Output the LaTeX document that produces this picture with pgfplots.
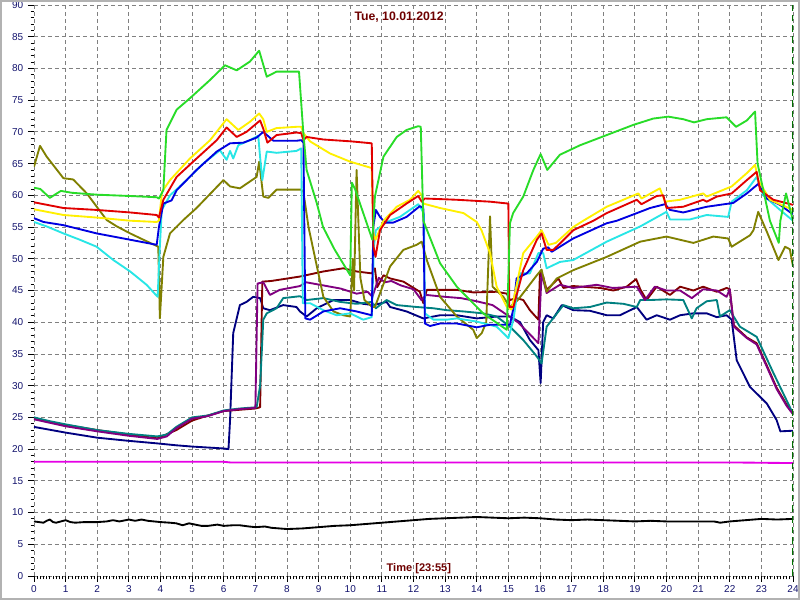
\documentclass[border=0pt]{standalone}
\usepackage{fontspec}
\setmainfont{Liberation Sans}
\usepackage{pgfplots}
\pgfplotsset{compat=1.18}
\definecolor{cgreen}{RGB}{40,220,40}
\definecolor{cred}{RGB}{225,0,0}
\definecolor{cyellow}{RGB}{255,240,0}
\definecolor{cblue}{RGB}{0,0,225}
\definecolor{ccyan}{RGB}{40,230,230}
\definecolor{colive}{RGB}{128,128,0}
\definecolor{cmaroon}{RGB}{128,0,0}
\definecolor{cpurple}{RGB}{128,0,128}
\definecolor{cteal}{RGB}{0,128,128}
\definecolor{cnavy}{RGB}{0,0,128}
\definecolor{cmagenta}{RGB}{230,0,230}
\definecolor{labnavy}{RGB}{20,20,110}
\definecolor{titred}{RGB}{110,0,0}
\definecolor{endgreen}{RGB}{0,110,0}
\begin{document}
\begin{tikzpicture}
\useasboundingbox (-25.5pt,-18pt) rectangle (574.5pt,432pt);
\fill[white] (-25.5pt,-18pt) rectangle (574.5pt,432pt);
\begin{axis}[
  scale only axis, width=569.25pt, height=428.25pt,
  xmin=0, xmax=24, ymin=0, ymax=90,
  xtick={0,1,...,24}, ytick={0,5,...,90},
  minor x tick num=9, minor y tick num=4,
  tick align=outside, tick pos=left,
  major tick length=4.5pt, minor tick length=2.5pt,
  grid=major,
  grid style={gray, line width=0.6pt, dash pattern=on 3pt off 2.25pt},
  axis line style={draw=none},
  tick style={black, line width=0.6pt},
  ticklabel style={font=\fontsize{7.5}{8}\selectfont, text=labnavy},
  xticklabel style={yshift=1pt},
  /pgf/number format/assume math mode=true,
  every axis plot/.append style={line width=1.4pt, line join=round, no markers},
]
% black
\addplot[black] coordinates {(0,8.6) (0.15,8.5) (0.3,8.4) (0.4,8.7) (0.5,8.9) (0.6,8.5) (0.7,8.4) (0.85,8.6) (1,8.8) (1.15,8.5) (1.3,8.4) (1.6,8.5) (2,8.5) (2.3,8.6) (2.5,8.8) (2.7,8.6) (3,8.9) (3.2,8.7) (3.4,8.9) (3.6,8.7) (4,8.5) (4.3,8.4) (4.5,8.3) (4.7,8.0) (4.9,8.3) (5,8.2) (5.3,7.9) (5.5,7.9) (5.8,8.1) (6,7.9) (6.3,8.0) (6.5,8.0) (6.8,7.8) (7,7.7) (7.3,7.8) (7.5,7.6) (8,7.4) (8.5,7.5) (9,7.7) (9.5,7.9) (10,8.0) (10.5,8.2) (11,8.4) (11.5,8.6) (12,8.8) (12.5,9.0) (13,9.1) (13.5,9.2) (14,9.3) (14.5,9.2) (15,9.1) (15.5,9.2) (16,9.1) (16.5,8.9) (17,8.8) (17.5,8.9) (18,8.8) (18.5,8.7) (19,8.6) (19.5,8.7) (20,8.6) (20.5,8.6) (21,8.6) (21.5,8.6) (21.7,8.4) (22,8.6) (22.5,8.8) (23,9.0) (23.5,8.9) (24,9.0)};
% magenta
\addplot[cmagenta] coordinates {(0,18.0) (6,18.0) (6.2,17.9) (12,17.9) (18,17.9) (22,17.9) (24,17.8)};
% navy
\addplot[cnavy] coordinates {(0,23.5) (1,22.6) (2,21.8) (3,21.3) (3.9,20.9) (4.5,20.6) (5,20.4) (6,20.1) (6.15,20.0) (6.2,24.6) (6.3,38.3) (6.51,42.7) (6.72,43.2) (6.93,44.0) (7.15,43.8) (7.25,42.2) (7.46,41.9) (7.88,42.7) (8.3,42.4) (8.41,41.7) (8.62,40.9) (8.94,42.2) (9.47,43.5) (10.0,43.5) (10.41,42.9) (10.73,42.7) (11.15,43.2) (11.26,42.4) (11.78,41.7) (12.31,40.6) (12.84,41.1) (13.37,41.1) (14.0,40.6) (14.63,40.9) (15.05,40.9) (15.37,40.0) (15.68,37.2) (15.95,35.6) (16.02,30.4) (16.1,40) (16.21,41.1) (16.42,40.6) (16.69,42.7) (17.05,41.9) (17.58,41.8) (18.11,41.1) (18.53,41.1) (19.06,42.4) (19.37,40.4) (19.69,41.1) (20.11,40.4) (20.43,41.1) (20.85,41.4) (21.27,41.4) (21.59,40.8) (21.9,41.1) (22.06,40.4) (22.22,34.0) (22.64,29.8) (23.17,27.2) (23.48,24.6) (23.6,22.8) (24,22.9)};
% maroon
\addplot[cmaroon] coordinates {(0,24.8) (1,23.8) (2,23.0) (3,22.3) (3.9,21.7) (4.5,23) (5,24.5) (5.5,25.3) (6,26) (6.5,26.2) (7.0,26.4) (7.15,26.6) (7.22,46.4) (7.5,46.5) (8.41,47.2) (9.15,48.0) (9.78,48.5) (10.2,48.0) (10.68,47.7) (10.78,48.5) (10.85,45.5) (11.05,47.4) (11.26,46.9) (11.68,46.4) (12.2,44.8) (12.31,43.0) (12.42,45.1) (12.84,45.1) (13.37,45.1) (13.89,44.7) (14.63,44.8) (14.95,44.5) (15.05,43.5) (15.26,43.8) (15.47,43.5) (15.68,41.9) (15.95,40.4) (16.0,48.0) (16.1,47.2) (16.21,45.1) (16.58,46.9) (16.74,45.4) (17.05,45.7) (17.9,45.4) (18.32,45.0) (18.74,45.6) (19.04,46.8) (19.17,45.2) (19.37,43.5) (19.69,45.6) (20.11,44.3) (20.43,45.6) (20.85,45.0) (21.16,45.6) (21.59,44.8) (21.9,45.4) (22.0,45.2) (22.13,39.5) (22.54,37.6) (22.85,36.7) (23.17,33.2) (23.48,29.7) (23.8,27.0) (24,25.7)};
% teal
\addplot[cteal] coordinates {(0,25.0) (0.5,24.4) (1,23.9) (2,23.0) (3,22.4) (3.9,22.0) (4.2,22.3) (4.5,23.5) (5,25) (5.5,25.3) (6,26.1) (6.5,26.4) (7.04,26.6) (7.15,30) (7.2,35.1) (7.25,40.4) (7.36,41.4) (7.67,42.2) (7.88,43.8) (8.41,44.1) (8.62,43.5) (9.15,43.8) (9.68,43.2) (10.2,42.9) (10.68,43.2) (10.81,42.2) (11.15,43.5) (11.47,42.7) (12.1,42.4) (12.63,42.2) (13.05,41.9) (13.58,41.7) (14.2,41.4) (14.63,40.9) (15.05,39.3) (15.47,37.2) (15.9,34.6) (16.05,33.5) (16.21,39.3) (16.74,42.7) (17.05,42.2) (17.58,42.4) (18.11,43.1) (18.64,42.9) (19.06,42.4) (19.17,43.5) (19.48,43.5) (20.0,43.6) (20.53,43.5) (20.8,40.6) (20.95,42.2) (21.27,43.3) (21.59,43.5) (21.69,40.9) (22.0,41.9) (22.32,39.3) (22.85,37.7) (23.38,32.0) (24,25.6)};
% purple
\addplot[cpurple] coordinates {(0,24.7) (1,23.6) (2,22.8) (3,22.1) (3.9,21.6) (4.2,22) (4.5,23.3) (5,24.8) (5.5,25.2) (6,26) (6.5,26.3) (7.0,26.5) (7.07,46.1) (7.25,46.3) (7.46,44.3) (7.77,45.1) (8.41,45.7) (8.6,46.3) (9.15,45.8) (9.7,45.3) (10.2,44.5) (10.55,44.8) (10.7,44.0) (10.8,45.5) (10.9,47.0) (11.1,46.3) (11.3,46.5) (11.6,45.8) (12.0,45.2) (12.25,43.5) (12.4,44.3) (13.0,44.0) (13.5,43.8) (14.0,43.3) (14.5,42.7) (15.0,41.0) (15.3,40.0) (15.6,38.5) (15.95,36.7) (16.05,47.7) (16.21,44.6) (16.63,45.9) (17.05,45.4) (17.79,45.9) (18.3,45.4) (19.06,45.6) (19.32,43.5) (19.63,45.6) (20.0,45.0) (20.43,45.0) (20.8,43.8) (21.16,45.2) (21.59,45.0) (21.9,44.0) (22.0,45.2) (22.13,39.3) (22.54,37.5) (22.85,36.5) (23.17,33) (23.48,29.5) (23.8,26.8) (24,25.5)};
% olive
\addplot[colive] coordinates {(0,64.5) (0.19,67.8) (0.4,66.1) (0.93,62.7) (1.24,62.5) (1.67,60.3) (2.3,56.1) (2.62,55.1) (3.04,54.0) (3.46,53.0) (3.93,51.9) (3.98,40.6) (4.09,50.3) (4.3,54.0) (4.72,56.1) (5.14,58.0) (5.99,62.4) (6.2,61.4) (6.51,61.1) (7.04,62.9) (7.12,65.3) (7.25,59.8) (7.41,59.6) (7.67,60.9) (8.3,60.9) (8.45,60.9) (8.52,60.5) (8.68,55) (9.15,44.0) (9.47,41.7) (9.78,41.1) (10.0,40.9) (10.08,50) (10.12,45) (10.2,64.0) (10.32,47) (10.45,43.5) (10.7,42.4) (10.78,42.4) (11.26,48.8) (11.68,51.4) (12.1,52.2) (12.26,52.7) (12.42,49.8) (12.84,44.0) (13.37,40.9) (13.89,38.8) (14.0,37.5) (14.16,38.3) (14.3,40) (14.42,56.7) (14.5,45.6) (14.84,44.0) (15.05,42.4) (15.3,43.5) (15.9,47.4) (16.05,48.3) (16.21,44.8) (16.53,46.9) (17.05,48.2) (18.11,50.3) (19.17,52.7) (20.0,53.5) (20.85,52.5) (21.48,53.5) (21.95,53.2) (22.06,51.9) (22.64,53.7) (22.75,54.5) (22.9,57.4) (23.17,54.3) (23.54,49.8) (23.75,51.9) (23.9,51.5) (24,48.8)};
% cyan
\addplot[ccyan] coordinates {(0,55.8) (0.4,55.1) (0.93,54.0) (1.45,53.0) (1.98,51.9) (2.51,49.8) (3.04,48.0) (3.56,45.9) (3.91,44.0) (3.98,52) (4.04,57.7) (4.3,60.0) (4.72,61.9) (5.35,65.0) (5.88,67.1) (6.09,65.6) (6.2,67.0) (6.3,65.8) (6.46,67.9) (6.83,68.7) (7.09,69.4) (7.15,66) (7.22,62.4) (7.36,66.9) (7.67,66.7) (8.3,67.0) (8.45,67.4) (8.5,43) (8.73,43.0) (9.15,41.9) (9.57,41.1) (10.0,41.4) (10.41,40.4) (10.68,40.8) (10.75,52) (10.81,54.5) (11.15,55.8) (11.57,56.6) (12.15,58.6) (12.26,57.8) (12.33,57) (12.36,41.4) (12.63,40.4) (13.05,40.4) (13.37,40.6) (14.0,40.1) (14.63,39.3) (15.0,37.5) (15.16,40.4) (15.37,47.7) (15.68,47.7) (15.95,50.9) (16.1,50.9) (16.21,48.5) (16.63,49.5) (17.05,49.8) (18.11,52.7) (19.17,55.1) (20.0,57.4) (20.11,56.2) (20.74,56.2) (21.27,56.9) (21.95,56.6) (22.06,59.0) (22.54,60.8) (22.85,62.9) (23.06,60.0) (23.59,57.7) (24,56.0)};
% blue
\addplot[cblue] coordinates {(0,56.4) (0.3,55.8) (0.93,55.3) (1.98,54.0) (3.04,53.0) (3.88,52.2) (3.95,55) (4.09,58.7) (4.35,59.2) (4.51,60.8) (5.14,64.0) (5.78,66.9) (6.2,68.2) (6.62,68.3) (7.04,69.1) (7.25,70.0) (7.57,68.6) (8.3,68.6) (8.45,68.7) (8.52,68.3) (8.58,40.6) (8.73,40.4) (9.15,41.7) (9.68,42.2) (10.2,41.7) (10.68,41.1) (10.73,55) (10.81,57.7) (10.94,56.6) (11.1,55.7) (11.36,55.7) (11.78,56.6) (12.2,58.3) (12.31,58.0) (12.36,39.8) (12.52,39.4) (12.84,39.8) (13.37,39.8) (14.0,39.2) (14.42,39.6) (15.05,39.6) (15.15,42) (15.26,46.9) (15.58,47.7) (15.9,49.5) (16.1,51.6) (16.26,51.8) (16.37,51.1) (16.63,51.9) (17.05,53.2) (18.11,55.6) (18.43,56) (19.17,57.4) (19.48,58.0) (19.95,58.6) (20.11,57.7) (20.53,57.3) (21.27,58.2) (21.69,58.5) (22.11,58.8) (22.54,60.3) (22.9,61.8) (23.17,59.5) (23.59,58.5) (24,57.0)};
% yellow
\addplot[cyellow] coordinates {(0,57.8) (0.93,56.9) (1.98,56.5) (3.04,56.0) (3.88,55.8) (3.95,56) (4.05,60.6) (4.3,62.4) (4.93,65.8) (5.57,68.7) (6.09,72.0) (6.46,70.3) (6.83,71.6) (7.12,72.9) (7.25,72.0) (7.36,70.0) (7.67,70.6) (8.3,70.8) (8.45,70.8) (8.52,69.8) (8.73,68.5) (9.36,66.6) (10.0,65.3) (10.68,64.3) (10.73,54) (10.8,53) (11.05,56) (11.47,58.2) (11.89,59.3) (12.15,60.7) (12.26,60.0) (12.31,58.7) (12.84,58.0) (13.58,57.2) (14.0,55.8) (14.15,54.5) (14.42,50.9) (14.63,45.6) (14.95,42.4) (15.1,42.0) (15.47,50.9) (15.9,53.5) (16.05,54.5) (16.27,52.2) (16.5,52.5) (17.05,55.0) (17.37,56) (18.11,58.2) (19.11,60.3) (19.21,59.5) (19.79,61.1) (19.95,59.0) (20.43,59.3) (21.16,60.3) (21.27,59.8) (22.06,61.4) (22.54,63.5) (22.8,64.8) (22.9,62.4) (23.27,59.3) (24,57.7)};
% red
\addplot[cred] coordinates {(0,58.9) (0.93,58.0) (1.98,57.7) (3.04,57.3) (3.88,56.9) (3.95,56.5) (4.09,59.3) (4.51,62.9) (5.14,65.8) (5.78,68.7) (6.09,70.7) (6.41,69.2) (6.72,70.0) (7.15,71.8) (7.25,70.5) (7.38,68.3) (7.67,69.5) (8.3,69.9) (8.45,69.8) (8.52,68.7) (8.62,69.2) (9.15,68.8) (10.04,68.5) (10.68,68.2) (10.73,52) (10.8,50.3) (10.94,54.5) (11.26,56.9) (11.78,58.7) (12.15,59.9) (12.26,59.0) (12.36,59.5) (13.37,59.3) (14.42,59.0) (15.0,58.7) (15.03,42.4) (15.16,42.4) (15.47,48.2) (15.9,53) (16.05,54) (16.21,51.4) (16.42,51.4) (16.63,52.4) (17.05,54.5) (17.69,56.0) (18.11,57.2) (19.06,59.3) (19.21,58.6) (19.69,59.9) (19.9,60.0) (20.0,58.0) (20.53,58.2) (21.16,59.3) (21.27,59.0) (21.59,59.8) (22.06,60.3) (22.54,62.4) (22.85,63.7) (22.96,60.8) (23.38,59.3) (24,58.5)};
% green
\addplot[cgreen] coordinates {(0,61.2) (0.2,61.0) (0.5,59.6) (0.85,60.7) (1.2,60.4) (2,60.1) (3,59.9) (3.88,59.7) (3.95,59.5) (4.09,60.8) (4.19,70.3) (4.51,73.5) (4.93,75.3) (5.57,78.2) (6.04,80.5) (6.41,79.7) (6.83,81.1) (7.12,82.8) (7.36,78.7) (7.67,79.5) (8.38,79.5) (8.51,70.3) (8.62,64) (8.94,58.8) (9.14,55) (9.5,51.5) (10.0,47.4) (10.05,62) (10.15,61) (10.7,53) (10.78,59.8) (11.05,66.1) (11.47,69.2) (11.78,70.3) (12.15,70.9) (12.23,70.8) (12.31,56) (12.84,49.3) (13.37,45.6) (14.2,41.4) (14.95,38.8) (15.05,55.6) (15.15,57.2) (15.47,59.8) (15.79,64) (16.02,66.5) (16.23,64) (16.63,66.4) (17.27,67.9) (18.11,69.5) (18.95,71.1) (19.58,72.1) (20.06,72.4) (20.53,72.0) (20.87,71.5) (21.27,72.0) (21.9,72.3) (22.2,70.8) (22.54,71.8) (22.8,73.2) (22.88,65) (23.27,56) (23.55,52.5) (23.6,56) (23.78,60.3) (24,56)};
\draw[endgreen, line width=0.8pt, dash pattern=on 5pt off 3pt] (axis cs:24,0) -- (axis cs:24,90);
\node[font=\bfseries\fontsize{9.2}{10}\selectfont, text=titred] at (axis description cs:0.481,0.979) {Tue, 10.01.2012};
\node[font=\bfseries\fontsize{8.3}{9}\selectfont, text=titred] at (axis description cs:0.507,0.013) {Time [23:55]};
\node[font=\fontsize{8.3}{9}\selectfont, text=titred, rotate=90] at (axis description cs:-0.032,0.5) {°C};
\end{axis}
\draw[gray!60, line width=1.2pt] (-24.9pt,-17.4pt) rectangle (573.9pt,431.4pt);
\end{tikzpicture}
\end{document}
